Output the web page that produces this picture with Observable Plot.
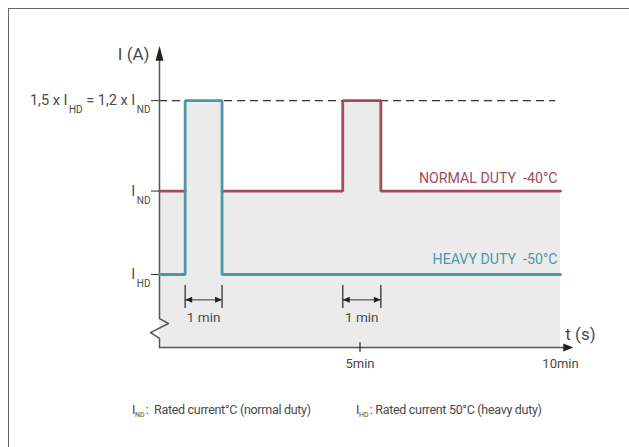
<!DOCTYPE html>
<html><head><meta charset="utf-8">
<script src="https://cdn.jsdelivr.net/npm/d3@7"></script>
<script src="https://cdn.jsdelivr.net/npm/@observablehq/plot@0.6"></script>
<style>
body{margin:0;background:#fff;overflow:hidden;font-family:Roboto,sans-serif;}
#wrap{position:relative;width:629px;height:447px;overflow:hidden;}
#frame{position:absolute;left:8px;top:8px;width:640px;height:460px;border-left:1.5px solid #666;border-top:1.5px solid #666;}
#chart{position:absolute;left:0;top:0;}
.foot{position:absolute;top:402px;font-size:12.5px;color:#4a4a4a;letter-spacing:-0.3px;white-space:nowrap}
.foot sub{font-size:7px;vertical-align:-3px;margin-right:1px;letter-spacing:0}
</style></head><body>
<div id="wrap"><div id="frame"></div><div id="chart"></div>
<div class="foot" style="left:132px">I<sub>ND</sub>:&nbsp; Rated current°C (normal duty)</div>
<div class="foot" style="left:356px">I<sub>HD</sub>: Rated current 50°C (heavy duty)</div>
</div>
<script>
// ---- data (current in units of I_HD, time in minutes) ----
const levelHD = 1.0;
const levelND = 1.24;
const levelPeak = 1.5;
const pulseHD = [0.64, 1.56];   // heavy duty overload window
const pulseND = [4.57, 5.52];   // normal duty overload window
const tEnd = 10;
const xTicks = [5, 10];
const xTickLabels = ["5min", "10min"];
const xTickMarks = [5];
const yTicks = [levelHD, levelND, levelPeak];
const yTickLabels = ["I_{HD}", "I_{ND}", "1,5 x I_{HD} = 1,2 x I_{ND}"];
const seriesNames = ["NORMAL DUTY\u00a0 -40°C", "HEAVY DUTY\u00a0 -50°C"];
const dimText = "1 min";
const axisLabelY = "I (A)";
const axisLabelX = "t (s)";
// axis geometry (data units)
const yMin = 0.79, yMax = 1.65, yTip = 1.658, yArrowBase = 1.616;
const xTip = 10.32, xLineEnd = 10.1;
const breakX = [0, 0.224, -0.224, 0];
const breakY = [0.873, 0.859, 0.833, 0.816];
const dimY = 0.927, dimY1 = 0.902, dimY2 = 0.968;

const red = "#a34b5e", blue = "#4e97a8", ink = "#4a4a4a";

// ---- derived tables ----
const heavy = [
  {t: 0, I: levelHD}, {t: pulseHD[0], I: levelHD}, {t: pulseHD[0], I: levelPeak},
  {t: pulseHD[1], I: levelPeak}, {t: pulseHD[1], I: levelHD}, {t: tEnd, I: levelHD}
];
const normal = [
  {z: 0, t: 0, I: levelND}, {z: 0, t: pulseHD[0], I: levelND},
  {z: 1, t: pulseHD[1], I: levelND}, {z: 1, t: pulseND[0], I: levelND},
  {z: 1, t: pulseND[0], I: levelPeak}, {z: 1, t: pulseND[1], I: levelPeak},
  {z: 1, t: pulseND[1], I: levelND}, {z: 1, t: tEnd, I: levelND}
];
const envelope = [
  {t: 0, I: levelND}, {t: pulseHD[0], I: levelND}, {t: pulseHD[0], I: levelPeak},
  {t: pulseHD[1], I: levelPeak}, {t: pulseHD[1], I: levelND}, {t: pulseND[0], I: levelND},
  {t: pulseND[0], I: levelPeak}, {t: pulseND[1], I: levelPeak}, {t: pulseND[1], I: levelND},
  {t: tEnd, I: levelND}
];
const yAxisPath = [{x: 0, y: yArrowBase}]
  .concat(breakX.map((x, i) => ({x, y: breakY[i]})))
  .concat([{x: 0, y: yMin}]);
const pulses = [pulseHD, pulseND];
const dimEnds = pulses.flatMap(p => [{t: p[0], dir: -1}, {t: p[1], dir: 1}]);

// custom triangle symbols
const triUp = {draw(c){ c.moveTo(0,0); c.lineTo(4,15); c.lineTo(-4,15); c.closePath(); }};
const triRight = {draw(c){ c.moveTo(0,0); c.lineTo(-10,-4); c.lineTo(-10,4); c.closePath(); }};
const headL = {draw(c){ c.moveTo(0,0); c.lineTo(7,-3); c.lineTo(7,3); c.closePath(); }};
const headR = {draw(c){ c.moveTo(0,0); c.lineTo(-7,-3); c.lineTo(-7,3); c.closePath(); }};

const chart = Plot.plot({
  width: 629, height: 447,
  marginLeft: 159, marginRight: 69, marginTop: 48, marginBottom: 100,
  x: {domain: [0, tEnd]},
  y: {domain: [yMin, yMax]},
  style: {fontFamily: "Roboto, sans-serif", color: ink, background: "transparent", overflow: "visible"},
  marks: [
    Plot.areaY(envelope, {x: "t", y1: yMin, y2: "I", fill: "#ebebeb", curve: "linear"}),
    Plot.ruleY([levelPeak], {x1: 0, x2: 9.88, stroke: "#333", strokeWidth: 1.4, strokeDasharray: "8,5"}),
    // axes lines
    Plot.line(yAxisPath, {x: "x", y: "y", stroke: "#555", strokeWidth: 1.5, curve: "linear"}),
    Plot.dot([{x: 0, y: yTip}], {x: "x", y: "y", symbol: triUp, r: 5, fill: "#222", stroke: "none"}),
    Plot.ruleY([yMin], {x1: 0, x2: xLineEnd, stroke: "#555", strokeWidth: 1.5}),
    Plot.dot([{x: xTip, y: yMin}], {x: "x", y: "y", symbol: triRight, r: 5, fill: "#222", stroke: "none"}),
    Plot.ruleX(xTickMarks, {y1: yMin - 0.014, y2: yMin + 0.014, stroke: "#333", strokeWidth: 1.3}),
    Plot.axisY({ticks: yTicks, tickSize: 8, tickPadding: 1, fontSize: 14.5, stroke: "#333",
      tickFormat: d => yTickLabels[yTicks.indexOf(d)]}),
    Plot.axisX({ticks: xTicks, tickSize: 0, tickPadding: 11, fontSize: 13,
      tickFormat: d => xTickLabels[xTicks.indexOf(d)]}),
    Plot.text([axisLabelY], {x: 0, y: yTip, text: d => d, textAnchor: "end", dx: -10, dy: 9, fontSize: 17, fill: ink, letterSpacing: 2}),
    Plot.text([axisLabelX], {x: xTip, y: yMin, text: d => d, textAnchor: "start", dx: -8, dy: -13, fontSize: 17, fill: ink, letterSpacing: 1}),
    // series
    Plot.line(normal, {x: "t", y: "I", z: "z", stroke: red, strokeWidth: 2.8, strokeLinejoin: "miter", curve: "linear"}),
    Plot.line(heavy, {x: "t", y: "I", stroke: blue, strokeWidth: 2.8, strokeLinejoin: "miter", curve: "linear"}),
    Plot.text([seriesNames[0]], {x: tEnd, y: levelND, text: d => d, textAnchor: "end", dx: -3, dy: -13, fontSize: 14.2, fill: red}),
    Plot.text([seriesNames[1]], {x: tEnd, y: levelHD, text: d => d, textAnchor: "end", dx: -3, dy: -15.5, fontSize: 14.2, fill: blue}),
    // 1 min dimensions
    Plot.ruleX(pulses.flat(), {x: d => d, y1: dimY1, y2: dimY2, stroke: "#333", strokeWidth: 1.3}),
    Plot.ruleY(pulses, {x1: d => d[0], x2: d => d[1], y: dimY, stroke: "#333", strokeWidth: 1}),
    Plot.dot(dimEnds.filter(d => d.dir < 0), {x: "t", y: dimY, symbol: headL, r: 4, fill: "#222", stroke: "none"}),
    Plot.dot(dimEnds.filter(d => d.dir > 0), {x: "t", y: dimY, symbol: headR, r: 4, fill: "#222", stroke: "none"}),
    Plot.text(pulses, {x: d => (d[0] + d[1]) / 2, y: dimY, text: () => dimText, dy: 18, fontSize: 13.5, fill: ink})
  ]
});

// subscripts in tick labels
d3.select(chart).selectAll("text").each(function() {
  const s = this.textContent;
  if (!s.includes("_{")) return;
  const parts = s.split(/_\{([^}]*)\}/);
  this.textContent = "";
  let sub = false;
  parts.forEach((p, i) => {
    const isSub = i % 2 === 1;
    if (!p) return;
    const ts = d3.select(this).append("tspan").text(p);
    if (isSub) { ts.attr("font-size", 10).attr("dy", 8).attr("dx", 1.5); sub = true; }
    else if (sub) { ts.attr("dy", -8); sub = false; }
  });
});

document.getElementById("chart").appendChild(chart);
</script>
</body></html>
